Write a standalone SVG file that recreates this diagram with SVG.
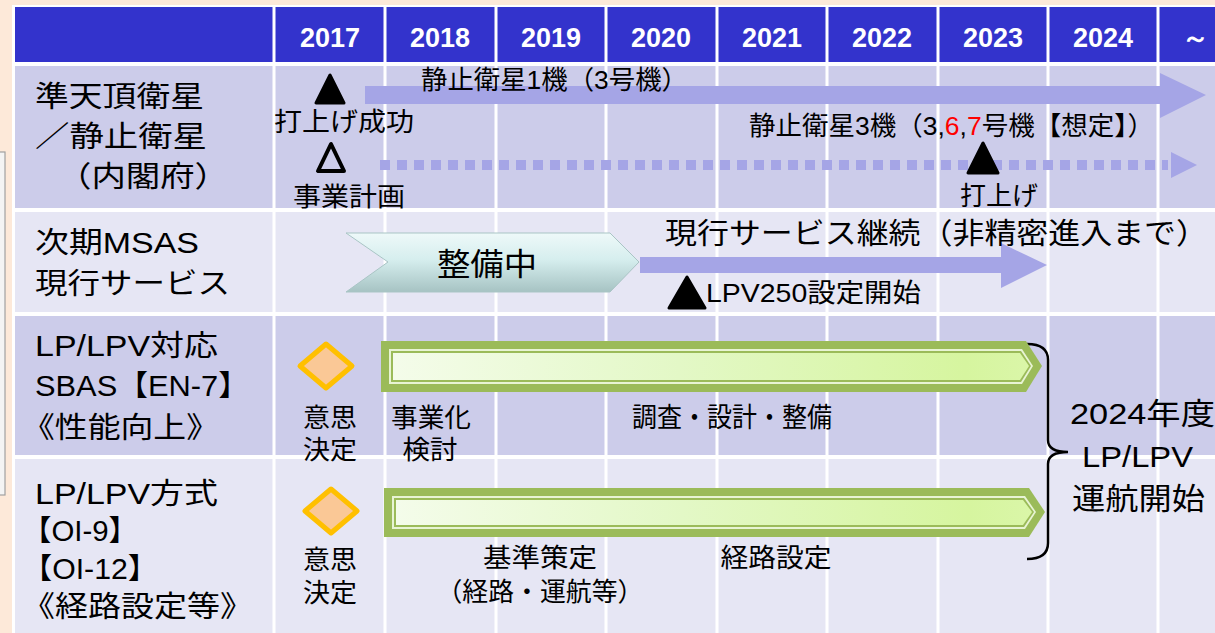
<svg xmlns="http://www.w3.org/2000/svg" width="1215" height="633" viewBox="0 0 1215 633">
<defs>
<style>
.t{font-family:"Liberation Sans","Noto Sans CJK JP",sans-serif;fill:#000;dominant-baseline:central}
.lc{font-size:29px}
.c{font-size:26px}
.m{text-anchor:middle}
.yr{font-family:"Liberation Sans",sans-serif;font-weight:bold;font-size:27px;fill:#fff;text-anchor:middle;dominant-baseline:central}
.grid{stroke:#fff;stroke-width:3}
.arr{fill:#A5A5E6}
.tri{fill:#000;stroke:#000;stroke-width:3;stroke-linejoin:round}
.dia{fill:#FAC896;stroke:#FFC000;stroke-width:5;stroke-linejoin:round}
.g1{fill:#9BBB59}
.g2{fill:#E8F4D4}
</style>
<linearGradient id="gf" x1="0" y1="0" x2="1" y2="0">
<stop offset="0" stop-color="#F4FCEA"/>
<stop offset="0.45" stop-color="#E3F8C6"/>
<stop offset="0.9" stop-color="#D6F59F"/>
<stop offset="1" stop-color="#DAF6A8"/>
</linearGradient>
<linearGradient id="cv" x1="0" y1="0" x2="0" y2="1">
<stop offset="0" stop-color="#EEF9F9"/>
<stop offset="0.45" stop-color="#D6EEEE"/>
<stop offset="1" stop-color="#A6C3C3"/>
</linearGradient>
</defs>
<rect x="0" y="0" width="1215" height="633" fill="#FDE9D9"/>
<rect x="-1" y="152" width="6" height="343" fill="#F4F4F4" stroke="#A0A0A0" stroke-width="1.2"/>
<g id="table">
<rect x="12" y="5" width="1203" height="628" fill="#fff"/>
<rect x="15" y="7" width="1200" height="55" fill="#3333CC"/>
<rect x="15" y="66" width="1200" height="142" fill="#CCCCEA"/>
<rect x="15" y="212" width="1200" height="100" fill="#E6E6F4"/>
<rect x="15" y="316" width="1200" height="139" fill="#CCCCEA"/>
<rect x="15" y="459" width="1200" height="180" fill="#E6E6F4"/>
<g class="grid">
<line x1="274" y1="5" x2="274" y2="633"/>
<line x1="385" y1="5" x2="385" y2="633"/>
<line x1="496" y1="5" x2="496" y2="633"/>
<line x1="606" y1="5" x2="606" y2="633"/>
<line x1="717" y1="5" x2="717" y2="633"/>
<line x1="827" y1="5" x2="827" y2="633"/>
<line x1="938" y1="5" x2="938" y2="633"/>
<line x1="1048" y1="5" x2="1048" y2="633"/>
<line x1="1158" y1="5" x2="1158" y2="633"/>
</g>
</g>
<g id="years">
<text class="yr" x="330" y="38">2017</text>
<text class="yr" x="440" y="38">2018</text>
<text class="yr" x="551" y="38">2019</text>
<text class="yr" x="661" y="38">2020</text>
<text class="yr" x="772" y="38">2021</text>
<text class="yr" x="882" y="38">2022</text>
<text class="yr" x="993" y="38">2023</text>
<text class="yr" x="1103" y="38">2024</text>
<text class="yr" x="1195" y="38" font-size="34">～</text>
</g>
<g id="row-labels">
<text class="t lc" x="35" y="97" textLength="169" lengthAdjust="spacingAndGlyphs">準天頂衛星</text>
<text class="t lc" x="35" y="137" textLength="172" lengthAdjust="spacingAndGlyphs">／静止衛星</text>
<text class="t lc" x="57" y="177" textLength="172" lengthAdjust="spacingAndGlyphs">（内閣府）</text>
<text class="t lc" x="35" y="243" textLength="164" lengthAdjust="spacingAndGlyphs">次期MSAS</text>
<text class="t lc" x="35" y="284" textLength="195" lengthAdjust="spacingAndGlyphs">現行サービス</text>
<text class="t lc" x="35" y="346" textLength="183" lengthAdjust="spacingAndGlyphs">LP/LPV対応</text>
<text class="t lc" x="35" y="386" textLength="214" lengthAdjust="spacingAndGlyphs">SBAS【EN-7】</text>
<text class="t lc" x="22" y="428" textLength="197" lengthAdjust="spacingAndGlyphs">《性能向上》</text>
<text class="t lc" x="35" y="494" textLength="183" lengthAdjust="spacingAndGlyphs">LP/LPV方式</text>
<text class="t lc" x="22" y="531" textLength="116" lengthAdjust="spacingAndGlyphs">【OI-9】</text>
<text class="t lc" x="22" y="569" textLength="136" lengthAdjust="spacingAndGlyphs">【OI-12】</text>
<text class="t lc" x="22" y="607" textLength="231" lengthAdjust="spacingAndGlyphs">《経路設定等》</text>
</g>
<g id="connectors">
<polygon class="arr" points="365,86 1160,86 1160,73 1206,95 1160,118 1160,104 365,104"/>
<line x1="380" y1="165" x2="1168" y2="165" stroke="#A5A5E6" stroke-width="10" stroke-dasharray="10 7"/>
<polygon class="arr" points="1171,152 1197,165 1171,178"/>
<polygon class="arr" points="640,257 1001,257 1001,243 1047,265 1001,288 1001,273 640,273"/>
<path d="M1027,344 Q1048,344 1048,360 L1048,440 Q1048,452 1068,452 Q1048,452 1048,464 L1048,543 Q1048,559 1027,559" fill="none" stroke="#000" stroke-width="2.5"/>
</g>
<g id="qzss">
<polygon class="tri" points="330,75 316,103 344,103"/>
<text class="t c m" x="344" y="122" textLength="140" lengthAdjust="spacingAndGlyphs">打上げ成功</text>
<polygon points="331,144 318,171 344,171" fill="none" stroke="#000" stroke-width="4" stroke-linejoin="round"/>
<text class="t c m" x="349" y="197" textLength="112" lengthAdjust="spacingAndGlyphs">事業計画</text>
<text class="t c" x="421" y="80" textLength="267" lengthAdjust="spacingAndGlyphs">静止衛星1機（3号機）</text>
<text class="t c" x="749" y="126" textLength="405" lengthAdjust="spacingAndGlyphs">静止衛星3機（3,<tspan fill="#FF0000">6</tspan>,<tspan fill="#FF0000">7</tspan>号機【想定】）</text>
<polygon class="tri" points="983,143 968,173 998,173"/>
<text class="t c m" x="999" y="196" textLength="78" lengthAdjust="spacingAndGlyphs">打上げ</text>
</g>
<g id="msas">
<polygon points="346,233 610,233 639,262 610,292 346,292 388,262" fill="url(#cv)" stroke="#A9C5C5" stroke-width="1"/>
<text class="t m" x="487" y="264" font-size="31" textLength="100" lengthAdjust="spacingAndGlyphs">整備中</text>
<text class="t" x="665" y="234" font-size="29" textLength="543" lengthAdjust="spacingAndGlyphs">現行サービス継続（非精密進入まで）</text>
<polygon class="tri" points="687,277 669,308 705,308"/>
<text class="t" x="706" y="293" font-size="26" textLength="215" lengthAdjust="spacingAndGlyphs">LPV250設定開始</text>
</g>
<g id="sbas">
<polygon class="dia" points="326,344 352,366 326,388 300,366"/>
<text class="t c m" x="330" y="418" textLength="54" lengthAdjust="spacingAndGlyphs">意思</text>
<text class="t c m" x="330" y="450" textLength="54" lengthAdjust="spacingAndGlyphs">決定</text>
<polygon class="g1" points="381,341 1026,341 1042,366 1026,392 381,392"/>
<polygon class="g2" points="389,349 1022,349 1033,366 1022,384 389,384"/>
<polygon class="g1" points="391,351 1021,351 1031,366 1021,382 391,382"/>
<polygon fill="url(#gf)" points="393,353 1020,353 1029,366 1020,380 393,380"/>
<text class="t c m" x="431" y="418" textLength="80" lengthAdjust="spacingAndGlyphs">事業化</text>
<text class="t c m" x="430" y="450" textLength="55" lengthAdjust="spacingAndGlyphs">検討</text>
<text class="t m" font-size="27" x="732" y="418" textLength="200" lengthAdjust="spacingAndGlyphs">調査・設計・整備</text>
</g>
<g id="route">
<polygon class="dia" points="331,489 357,511 331,533 305,511"/>
<text class="t c m" x="330" y="560" textLength="54" lengthAdjust="spacingAndGlyphs">意思</text>
<text class="t c m" x="330" y="593" textLength="54" lengthAdjust="spacingAndGlyphs">決定</text>
<polygon class="g1" points="384,488 1029,488 1045,512 1029,537 384,537"/>
<polygon class="g2" points="392,496 1025,496 1036,512 1025,529 392,529"/>
<polygon class="g1" points="394,498 1024,498 1034,512 1024,527 394,527"/>
<polygon fill="url(#gf)" points="396,500 1023,500 1032,512 1023,525 396,525"/>
<text class="t c m" x="540" y="558" textLength="114" lengthAdjust="spacingAndGlyphs">基準策定</text>
<text class="t c m" x="540" y="592" textLength="207" lengthAdjust="spacingAndGlyphs">（経路・運航等）</text>
<text class="t c m" x="776" y="558" textLength="111" lengthAdjust="spacingAndGlyphs">経路設定</text>
</g>
<g id="goal">
<text class="t" x="1070" y="413" font-size="30" textLength="145" lengthAdjust="spacingAndGlyphs">2024年度</text>
<text class="t" x="1082" y="456" font-size="30" textLength="111" lengthAdjust="spacingAndGlyphs">LP/LPV</text>
<text class="t" x="1072" y="498" font-size="30" textLength="133" lengthAdjust="spacingAndGlyphs">運航開始</text>
</g>
</svg>
